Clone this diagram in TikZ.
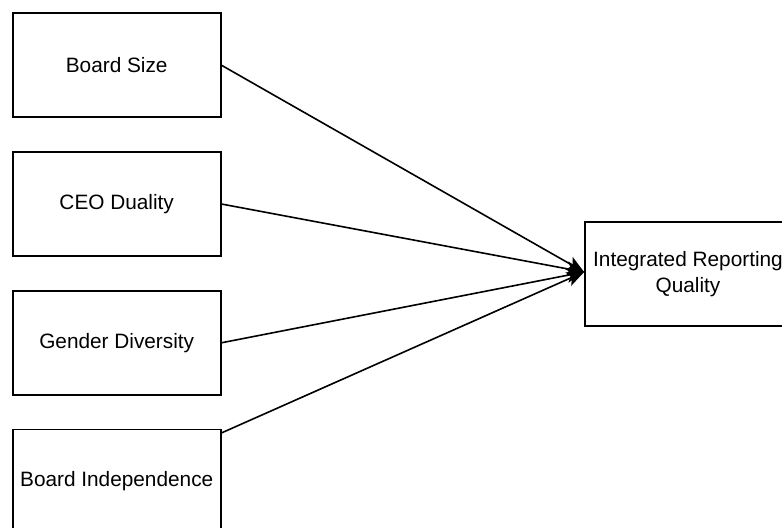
\documentclass[tikz,border=0pt]{standalone}
\usepackage{fontspec}
\setmainfont{Liberation Sans}
\usetikzlibrary{arrows.meta, positioning}

\begin{document}
\begin{tikzpicture}[
    x=0.75pt, y=-0.75pt,
    >={Stealth[length=13pt, width=11pt, inset=3pt]},
    factor/.style={draw, line width=1.3pt, minimum width=156pt,
                   minimum height=78pt, inner sep=2pt,
                   font=\fontsize{15.6}{19.5}\selectfont},
    link/.style={->, line width=1.2pt}
  ]
  \useasboundingbox (0,0) rectangle (782,528);
  \fill[white] (0,0) rectangle (782,528);
  \clip (0,0) rectangle (782,528);

  % governance factors
  \node[factor] (bs) at (116.7,65.3) {Board Size};
  \node[factor, below=24.75pt of bs] (ceo) {CEO Duality};
  \node[factor, below=24.75pt of ceo] (gd) {Gender Diversity};
  \node[factor, below=24.75pt of gd] (bi) {Board Independence};

  % outcome
  \node[factor, minimum width=154.5pt, align=center] (irq) at (688,274)
    {Integrated Reporting\\Quality};

  \draw[link] (bs.east) -- ([yshift=1.5pt]irq.west);
  \draw[link] (ceo.east) -- ([yshift=1.5pt]irq.west);
  \draw[link] (gd.east) -- ([yshift=1.5pt]irq.west);
  \draw[link] ([yshift=-3.2pt]bi.north east) -- ([yshift=1.5pt]irq.west);
\end{tikzpicture}
\end{document}
